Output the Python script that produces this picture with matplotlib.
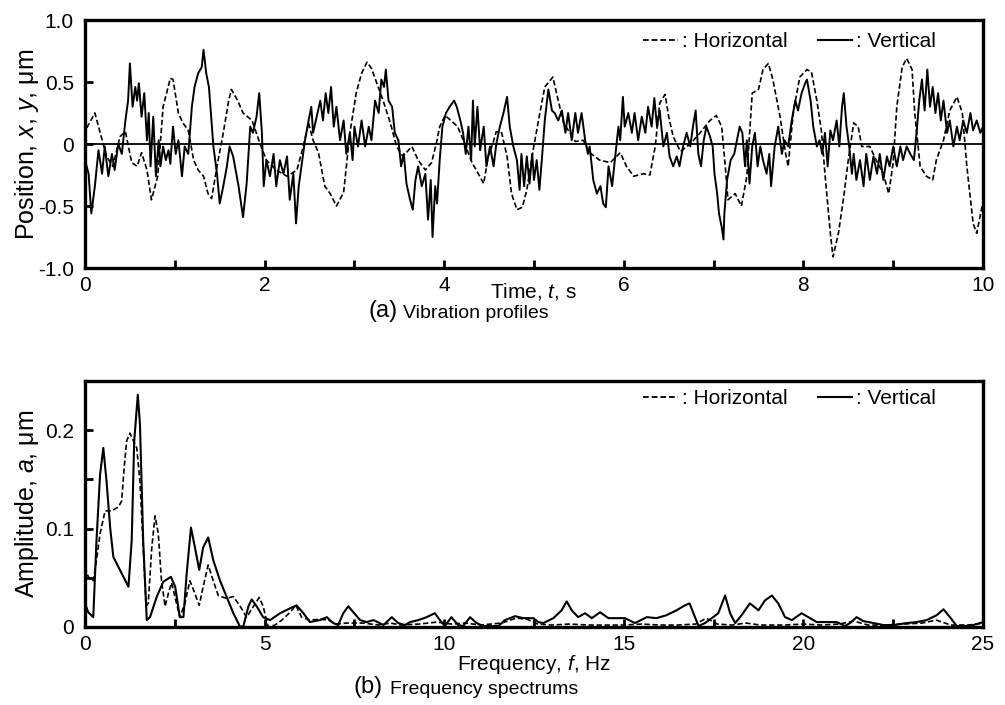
import numpy as np
import matplotlib
matplotlib.use("Agg")
import matplotlib.pyplot as plt
from matplotlib.lines import Line2D

plt.rcParams['font.family'] = ['Liberation Sans', 'DejaVu Sans']
plt.rcParams['mathtext.fontset'] = 'custom'
plt.rcParams['mathtext.it'] = 'Liberation Sans:italic'
plt.rcParams['mathtext.rm'] = 'Liberation Sans'

# vibration profile, horizontal (dashed)
time_h = [0.02, 0.11, 0.17, 0.24, 0.31, 0.39, 0.45, 0.52, 0.58, 0.63, 0.69, 0.74, 0.81, 0.87, 0.95,
          0.98, 1.04, 1.09, 1.15, 1.21, 1.26, 1.32, 1.37, 1.41, 1.47, 1.54, 1.60, 1.63, 1.70, 1.76,
          1.86, 1.95, 2.02, 2.13, 2.25, 2.36, 2.43, 2.49, 2.54, 2.60, 2.67, 2.73, 2.80, 2.88, 2.95,
          3.02, 3.08, 3.14, 3.19, 3.25, 3.32, 3.40, 3.47, 3.54, 3.64, 3.71, 3.79, 3.86, 3.92, 3.95,
          4.01, 4.09, 4.15, 4.23, 4.31, 4.38, 4.44, 4.49, 4.54, 4.58, 4.64, 4.70, 4.75, 4.81, 4.87,
          4.92, 4.99, 5.05, 5.12, 5.21, 5.27, 5.33, 5.40, 5.46, 5.55, 5.62, 5.73, 5.85, 5.96, 6.03,
          6.11, 6.22, 6.29, 6.35, 6.40, 6.46, 6.50, 6.55, 6.63, 6.74, 6.85, 6.96, 7.03, 7.09, 7.13,
          7.16, 7.24, 7.31, 7.37, 7.43, 7.50, 7.55, 7.61, 7.66, 7.74, 7.80, 7.83, 7.89, 7.96, 8.04,
          8.09, 8.15, 8.20, 8.24, 8.30, 8.33, 8.39, 8.45, 8.50, 8.56, 8.61, 8.65, 8.74, 8.81, 8.89,
          8.95, 9.00, 9.04, 9.10, 9.15, 9.21, 9.24, 9.30, 9.37, 9.44, 9.48, 9.56, 9.63, 9.71, 9.77,
          9.82, 9.89, 9.93, 9.99]
pos_h = [0.13, 0.25, 0.09, -0.10, -0.18, 0.06, 0.10, -0.15, -0.18, -0.07, -0.21, -0.45, -0.26, 0.30, 0.53,
         0.52, 0.25, 0.17, 0.11, -0.13, -0.21, -0.26, -0.40, -0.44, -0.18, 0.09, 0.35, 0.44, 0.35, 0.25,
         0.19, 0.00, -0.13, -0.21, -0.26, -0.21, -0.02, 0.17, 0.03, -0.07, -0.34, -0.40, -0.50, -0.39, 0.09,
         0.41, 0.57, 0.66, 0.61, 0.49, 0.35, 0.17, -0.02, -0.10, -0.02, -0.13, -0.21, -0.15, 0.03, 0.14,
         0.23, 0.18, 0.14, 0.00, -0.15, -0.24, -0.32, -0.10, 0.00, 0.10, 0.09, -0.10, -0.40, -0.53, -0.51,
         -0.37, -0.05, 0.19, 0.46, 0.54, 0.35, 0.17, 0.09, 0.02, 0.03, -0.07, -0.13, -0.15, -0.07, -0.18,
         -0.26, -0.24, -0.25, -0.02, 0.33, 0.40, 0.22, 0.06, -0.06, 0.00, 0.09, 0.19, 0.23, 0.14, -0.18,
         -0.45, -0.40, -0.50, -0.26, 0.41, 0.44, 0.60, 0.65, 0.52, 0.22, -0.07, -0.18, 0.27, 0.54, 0.60,
         0.58, 0.35, 0.11, -0.24, -0.72, -0.91, -0.72, -0.42, -0.13, 0.17, 0.14, -0.02, -0.02, -0.13, -0.24,
         -0.40, -0.15, 0.30, 0.62, 0.69, 0.60, 0.25, -0.18, -0.26, -0.29, -0.13, 0.03, 0.27, 0.38, 0.25,
         -0.18, -0.64, -0.72, -0.50]

# vibration profile, vertical (solid)
time_v = [0.00, 0.04, 0.07, 0.11, 0.15, 0.19, 0.22, 0.26, 0.30, 0.33, 0.37, 0.41, 0.45, 0.48, 0.50,
          0.53, 0.56, 0.58, 0.60, 0.63, 0.66, 0.69, 0.71, 0.73, 0.76, 0.79, 0.82, 0.84, 0.87, 0.90,
          0.93, 0.95, 0.98, 1.01, 1.04, 1.08, 1.11, 1.15, 1.19, 1.22, 1.26, 1.30, 1.32, 1.35, 1.38,
          1.40, 1.43, 1.47, 1.50, 1.54, 1.58, 1.61, 1.65, 1.71, 1.76, 1.80, 1.84, 1.87, 1.91, 1.94,
          1.97, 1.99, 2.02, 2.06, 2.10, 2.13, 2.17, 2.21, 2.25, 2.28, 2.32, 2.35, 2.38, 2.41, 2.45,
          2.49, 2.52, 2.54, 2.58, 2.62, 2.65, 2.68, 2.71, 2.74, 2.77, 2.80, 2.84, 2.88, 2.91, 2.95,
          2.98, 3.00, 3.04, 3.08, 3.12, 3.16, 3.19, 3.23, 3.27, 3.30, 3.33, 3.35, 3.38, 3.42, 3.45,
          3.49, 3.52, 3.55, 3.58, 3.62, 3.65, 3.68, 3.71, 3.75, 3.79, 3.82, 3.85, 3.87, 3.90, 3.92,
          3.95, 3.98, 4.02, 4.06, 4.11, 4.14, 4.18, 4.21, 4.24, 4.27, 4.30, 4.32, 4.34, 4.37, 4.40,
          4.44, 4.47, 4.51, 4.55, 4.58, 4.62, 4.66, 4.70, 4.73, 4.77, 4.81, 4.84, 4.86, 4.89, 4.92,
          4.95, 4.98, 5.00, 5.03, 5.06, 5.09, 5.12, 5.16, 5.20, 5.23, 5.27, 5.31, 5.35, 5.38, 5.42,
          5.46, 5.49, 5.53, 5.57, 5.60, 5.62, 5.66, 5.70, 5.74, 5.77, 5.80, 5.83, 5.87, 5.90, 5.94,
          5.96, 5.99, 6.01, 6.05, 6.09, 6.12, 6.16, 6.20, 6.24, 6.27, 6.31, 6.34, 6.37, 6.40, 6.44,
          6.48, 6.51, 6.55, 6.59, 6.62, 6.66, 6.70, 6.74, 6.77, 6.80, 6.83, 6.86, 6.89, 6.92, 6.96,
          6.99, 7.01, 7.04, 7.06, 7.09, 7.11, 7.12, 7.15, 7.19, 7.23, 7.26, 7.29, 7.32, 7.35, 7.37,
          7.40, 7.43, 7.46, 7.49, 7.52, 7.55, 7.59, 7.62, 7.64, 7.68, 7.72, 7.76, 7.79, 7.83, 7.87,
          7.91, 7.94, 7.98, 8.02, 8.04, 8.08, 8.11, 8.15, 8.18, 8.21, 8.24, 8.27, 8.30, 8.33, 8.37,
          8.40, 8.43, 8.45, 8.48, 8.51, 8.54, 8.56, 8.59, 8.63, 8.67, 8.70, 8.74, 8.78, 8.82, 8.85,
          8.89, 8.93, 8.96, 9.00, 9.04, 9.08, 9.11, 9.15, 9.19, 9.23, 9.26, 9.29, 9.32, 9.35, 9.38,
          9.41, 9.44, 9.47, 9.50, 9.53, 9.56, 9.60, 9.63, 9.67, 9.71, 9.74, 9.78, 9.82, 9.86, 9.89,
          9.93, 9.97, 10.00]
pos_v = [-0.13, -0.24, -0.56, -0.34, -0.05, -0.24, -0.02, -0.26, -0.08, -0.21, 0.00, -0.08, 0.19, 0.35, 0.65,
         0.30, 0.46, 0.35, 0.49, 0.22, 0.41, 0.03, 0.25, -0.18, 0.22, -0.26, 0.03, -0.18, -0.02, -0.13,
         -0.05, -0.16, 0.14, -0.08, 0.03, -0.26, -0.02, -0.08, 0.30, 0.46, 0.57, 0.62, 0.76, 0.57, 0.46,
         0.27, -0.02, -0.24, -0.48, -0.34, -0.18, -0.02, -0.10, -0.34, -0.59, -0.32, 0.14, 0.09, 0.22, 0.41,
         0.09, -0.34, -0.13, -0.26, -0.08, -0.34, -0.13, -0.24, -0.10, -0.45, -0.24, -0.64, -0.34, -0.18, 0.03,
         0.19, 0.30, 0.09, 0.22, 0.35, 0.19, 0.41, 0.25, 0.46, 0.14, 0.30, 0.03, 0.19, -0.08, 0.09,
         -0.13, 0.14, -0.02, 0.19, -0.02, 0.14, 0.03, 0.35, 0.25, 0.52, 0.46, 0.60, 0.35, 0.30, 0.09,
         0.03, -0.18, -0.08, -0.32, -0.45, -0.53, -0.29, -0.18, -0.34, -0.24, -0.61, -0.29, -0.75, -0.34, -0.48,
         -0.13, 0.14, 0.25, 0.30, 0.35, 0.30, 0.19, 0.09, -0.08, 0.14, -0.13, 0.35, -0.02, 0.30, -0.05,
         0.14, -0.18, -0.02, -0.18, 0.00, 0.14, 0.25, 0.38, 0.14, -0.02, -0.13, -0.37, -0.08, -0.34, -0.10,
         -0.32, -0.08, -0.29, -0.13, -0.37, -0.10, 0.19, 0.44, 0.27, 0.25, 0.19, 0.27, 0.09, 0.25, 0.03,
         0.25, 0.09, 0.25, 0.03, -0.08, -0.02, -0.29, -0.40, -0.34, -0.48, -0.51, -0.18, -0.34, -0.13, 0.14,
         0.03, 0.38, 0.14, 0.25, 0.09, 0.25, 0.03, 0.22, 0.09, 0.30, 0.14, 0.37, 0.14, 0.27, -0.02,
         0.09, -0.10, -0.18, -0.10, -0.18, -0.02, 0.09, -0.02, 0.14, 0.27, -0.08, -0.18, 0.03, 0.14, 0.06,
         -0.02, -0.24, -0.40, -0.56, -0.67, -0.77, -0.56, -0.29, -0.13, -0.08, 0.03, 0.14, 0.09, -0.18, 0.03,
         -0.32, -0.02, 0.09, -0.18, -0.02, -0.13, -0.24, -0.08, -0.34, -0.02, 0.14, -0.08, 0.03, -0.02, 0.19,
         0.35, 0.27, 0.41, 0.49, 0.52, 0.35, 0.14, -0.02, 0.03, -0.08, 0.09, -0.18, 0.11, 0.03, 0.19,
         -0.02, 0.30, 0.41, 0.14, -0.02, -0.24, -0.08, -0.29, -0.13, -0.34, -0.08, -0.29, -0.10, -0.24, -0.08,
         -0.29, -0.10, -0.18, -0.02, -0.18, -0.02, -0.13, -0.02, -0.08, -0.13, 0.09, 0.35, 0.52, 0.27, 0.60,
         0.30, 0.46, 0.25, 0.41, 0.19, 0.35, 0.09, 0.19, -0.02, 0.14, 0.03, 0.19, 0.09, 0.25, 0.11,
         0.19, 0.09, 0.14]

# frequency spectrum, horizontal (dashed)
freq_h = [0.00, 0.09, 0.23, 0.32, 0.42, 0.56, 0.74, 0.93, 1.02, 1.09, 1.16, 1.25, 1.35, 1.44, 1.53,
          1.62, 1.70, 1.76, 1.86, 1.95, 2.04, 2.13, 2.23, 2.32, 2.41, 2.64, 2.78, 2.92, 3.06, 3.18,
          3.29, 3.43, 3.57, 3.71, 3.94, 4.13, 4.32, 4.50, 4.69, 4.85, 4.96, 5.10, 5.29, 5.48, 5.71,
          5.87, 6.03, 6.26, 6.54, 6.77, 7.00, 7.28, 7.75, 8.17, 8.50, 8.80, 9.30, 9.80, 10.2, 10.6,
          11.0, 11.6, 12.0, 12.3, 12.6, 13.0, 13.5, 14.0, 14.5, 15.0, 15.5, 16.0, 16.5, 17.0, 17.3,
          17.6, 18.0, 18.4, 18.8, 19.5, 20.0, 20.5, 21.0, 21.4, 21.8, 22.3, 22.8, 23.3, 23.7, 24.1,
          24.6, 25.0]
amp_h = [0.061, 0.051, 0.047, 0.068, 0.095, 0.118, 0.118, 0.122, 0.128, 0.162, 0.189, 0.197, 0.189, 0.182, 0.148,
         0.081, 0.021, 0.024, 0.081, 0.113, 0.095, 0.047, 0.021, 0.034, 0.045, 0.010, 0.024, 0.047, 0.034, 0.022,
         0.041, 0.063, 0.047, 0.032, 0.029, 0.031, 0.021, 0.010, 0.021, 0.030, 0.021, 0.000, 0.002, 0.007, 0.015,
         0.022, 0.010, 0.007, 0.008, 0.007, 0.003, 0.004, 0.004, 0.002, 0.004, 0.002, 0.003, 0.005, 0.003, 0.004,
         0.002, 0.004, 0.009, 0.008, 0.003, 0.002, 0.003, 0.002, 0.002, 0.002, 0.003, 0.002, 0.002, 0.003, 0.009,
         0.003, 0.002, 0.004, 0.002, 0.002, 0.003, 0.002, 0.003, 0.006, 0.002, 0.002, 0.003, 0.004, 0.007, 0.002,
         0.002, 0.004]

# frequency spectrum, vertical (solid)
freq_v = [0.00, 0.09, 0.23, 0.32, 0.42, 0.51, 0.60, 0.70, 0.79, 0.93, 1.07, 1.21, 1.30, 1.37, 1.47,
          1.53, 1.62, 1.72, 1.81, 2.00, 2.18, 2.39, 2.51, 2.64, 2.74, 2.83, 2.95, 3.06, 3.18, 3.29,
          3.43, 3.57, 3.76, 3.94, 4.13, 4.32, 4.41, 4.55, 4.64, 4.78, 4.96, 5.15, 5.43, 5.71, 5.89,
          6.08, 6.26, 6.54, 6.73, 6.91, 7.05, 7.19, 7.33, 7.47, 7.66, 7.84, 8.03, 8.31, 8.54, 8.72,
          8.91, 9.05, 9.28, 9.51, 9.74, 9.88, 10.02, 10.20, 10.39, 10.53, 10.72, 10.90, 11.09, 11.28, 11.51,
          11.69, 11.97, 12.20, 12.48, 12.62, 12.76, 13.04, 13.27, 13.41, 13.55, 13.73, 13.92, 14.11, 14.34, 14.57,
          14.80, 15.03, 15.31, 15.64, 15.91, 16.19, 16.47, 16.70, 16.83, 16.94, 17.08, 17.26, 17.45, 17.63, 17.82,
          17.96, 18.10, 18.28, 18.51, 18.75, 18.93, 19.12, 19.30, 19.49, 19.68, 19.95, 20.18, 20.37, 20.65, 20.93,
          21.16, 21.30, 21.48, 21.67, 21.95, 22.23, 22.51, 22.88, 23.15, 23.43, 23.71, 23.90, 24.08, 24.27, 24.55,
          24.73, 24.92, 25.00]
amp_v = [0.024, 0.015, 0.010, 0.088, 0.155, 0.182, 0.148, 0.101, 0.071, 0.061, 0.051, 0.041, 0.088, 0.189, 0.236,
         0.206, 0.088, 0.007, 0.010, 0.031, 0.046, 0.051, 0.041, 0.010, 0.010, 0.054, 0.101, 0.081, 0.058, 0.081,
         0.091, 0.068, 0.047, 0.031, 0.014, 0.000, 0.001, 0.021, 0.028, 0.021, 0.010, 0.007, 0.014, 0.019, 0.022,
         0.014, 0.005, 0.007, 0.010, 0.004, 0.002, 0.014, 0.021, 0.015, 0.007, 0.005, 0.007, 0.002, 0.010, 0.004,
         0.002, 0.005, 0.007, 0.010, 0.014, 0.007, 0.001, 0.010, 0.002, 0.001, 0.010, 0.004, 0.001, 0.001, 0.001,
         0.007, 0.011, 0.009, 0.009, 0.005, 0.004, 0.009, 0.017, 0.026, 0.017, 0.010, 0.014, 0.009, 0.015, 0.009,
         0.009, 0.009, 0.004, 0.010, 0.009, 0.012, 0.017, 0.022, 0.024, 0.014, 0.001, 0.004, 0.009, 0.014, 0.032,
         0.014, 0.004, 0.012, 0.024, 0.017, 0.027, 0.032, 0.024, 0.010, 0.007, 0.014, 0.009, 0.005, 0.005, 0.005,
         0.001, 0.004, 0.010, 0.006, 0.004, 0.002, 0.002, 0.004, 0.005, 0.007, 0.012, 0.018, 0.010, 0.001, 0.001,
         0.002, 0.004, 0.005]

DASH = (0, (3.2, 1.6))
FS = 15        # ticks, legend, x labels
FS_Y = 18      # rotated y labels


def style_axes(ax):
    for s in ax.spines.values():
        s.set_linewidth(2.4)
    ax.tick_params(direction='in', length=6, width=2, labelsize=FS,
                   top=False, right=False)
    ax.tick_params(axis='x', pad=6)
    ax.tick_params(axis='y', pad=8)


def add_legend(ax, top):
    handles = [Line2D([], [], color='black', lw=1.3, linestyle=DASH),
               Line2D([], [], color='black', lw=1.5)]
    ax.legend(handles, [': Horizontal', ': Vertical'], loc='upper right',
              bbox_to_anchor=((936 - 85) / 898, top), ncol=2, frameon=False,
              fontsize=FS, handlelength=1.65, handletextpad=0.2,
              columnspacing=1.45, borderaxespad=0, borderpad=0)


fig = plt.figure(figsize=(10.05, 7.05), dpi=100)

# (a) vibration profiles
ax1 = fig.add_axes([85 / 1005, 437 / 705, 898 / 1005, 248 / 705])
ax1.axhline(0, color='black', lw=1.3)
ax1.plot(time_h, pos_h, color='black', lw=1.2, linestyle=DASH)
ax1.plot(time_v, pos_v, color='black', lw=1.4)
ax1.set_xlim(0, 10)
ax1.set_ylim(-1, 1)
ax1.set_xticks(np.arange(0, 11, 1))
ax1.set_xticklabels([str(i) if i % 2 == 0 else '' for i in range(11)])
ax1.set_yticks([-1, -0.5, 0, 0.5, 1])
ax1.set_yticklabels(['-1.0', '-0.5', '0', '0.5', '1.0'])
style_axes(ax1)
ax1.set_xlabel('Time, $t$, s', fontsize=FS)
ax1.xaxis.set_label_coords(0.5, -(291 - 268) / 248)
ax1.xaxis.label.set_va('center')
ax1.set_ylabel('Position, $x$, $y$, μm', fontsize=FS_Y)
ax1.yaxis.set_label_coords(-(85 - 27) / 898, 0.5)
ax1.yaxis.label.set_va('center')
add_legend(ax1, (268 - 32) / 248)

# (b) frequency spectrums
ax2 = fig.add_axes([85 / 1005, 78 / 705, 898 / 1005, 246 / 705])
ax2.plot(freq_h, amp_h, color='black', lw=1.2, linestyle=DASH)
ax2.plot(freq_v, amp_v, color='black', lw=1.5)
ax2.set_xlim(0, 25)
ax2.set_ylim(0, 0.25)
ax2.set_xticks(np.arange(0, 25.1, 2.5))
ax2.set_xticklabels(['0', '', '5', '', '10', '', '15', '', '20', '', '25'])
ax2.set_yticks([0, 0.05, 0.1, 0.15, 0.2])
ax2.set_yticklabels(['0', '', '0.1', '', '0.2'])
style_axes(ax2)
ax2.set_xlabel('Frequency, $f$, Hz', fontsize=FS)
ax2.xaxis.set_label_coords(0.5, -(664 - 627) / 246)
ax2.xaxis.label.set_va('center')
ax2.set_ylabel('Amplitude, $a$, μm', fontsize=FS_Y)
ax2.yaxis.set_label_coords(-(85 - 27) / 898, 0.5)
ax2.yaxis.label.set_va('center')
add_legend(ax2, (627 - 389) / 246)

# panel captions
fig.text(368 / 1005, 1 - 311 / 705, '(a)', fontsize=17, va='center', ha='left')
fig.text(403 / 1005, 1 - 313 / 705, 'Vibration profiles', fontsize=14, va='center', ha='left')
fig.text(353 / 1005, 1 - 687 / 705, '(b)', fontsize=17, va='center', ha='left')
fig.text(390 / 1005, 1 - 689 / 705, 'Frequency spectrums', fontsize=14, va='center', ha='left')

fig.savefig('out.png', dpi=100)
